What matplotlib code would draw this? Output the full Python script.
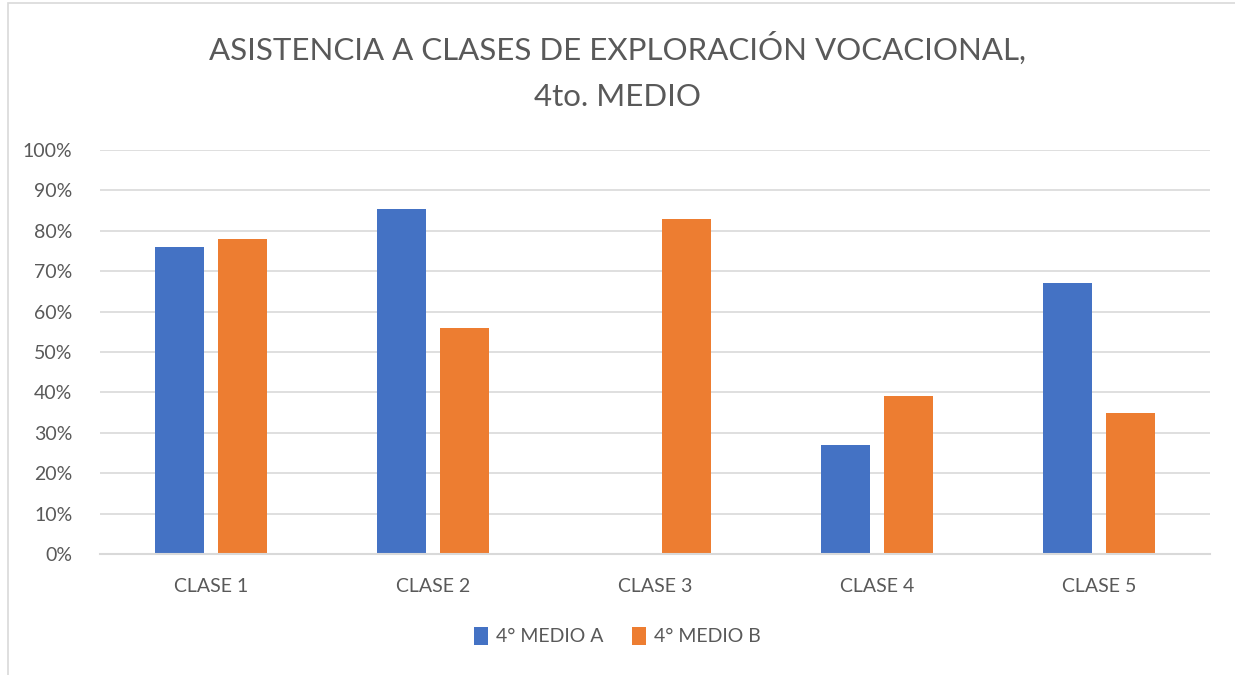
import numpy as np
from matplotlib import pyplot as plt
from matplotlib.patches import Rectangle

plt.rcParams['font.family'] = ['Lato', 'DejaVu Sans']

categories = ['CLASE 1', 'CLASE 2', 'CLASE 3', 'CLASE 4', 'CLASE 5']
medio_a = [76, 85.4, 0, 27, 67]
medio_b = [78, 56, 83, 39, 35]
series_names = ['4° MEDIO A', '4° MEDIO B']
y_ticks = [0, 10, 20, 30, 40, 50, 60, 70, 80, 90, 100]

color_a = '#4472C4'
color_b = '#ED7D31'
text_color = '#595959'

fig = plt.figure(figsize=(12.35, 6.75), dpi=100)
ax = fig.add_axes([100 / 1235, 1 - 554 / 675, 1110 / 1235, 404 / 675])

x = np.arange(len(categories))
width = 0.225
offset = 0.142
ax.bar(x - offset, medio_a, width, color=color_a, label=series_names[0], zorder=3)
ax.bar(x + offset, medio_b, width, color=color_b, label=series_names[1], zorder=3)

ax.set_xlim(-0.5, len(categories) - 0.5)
ax.set_ylim(0, 100)
ax.set_yticks(y_ticks)
ax.set_yticklabels([f'{t}%' for t in y_ticks])
ax.set_xticks(x)
ax.set_xticklabels(categories)
ax.tick_params(axis='both', length=0, labelsize=14, colors=text_color)
ax.tick_params(axis='x', pad=17)
ax.tick_params(axis='y', pad=20)

ax.yaxis.grid(True, color='#D9D9D9', linewidth=1.2, zorder=0)
for side in ['top', 'right', 'left']:
    ax.spines[side].set_visible(False)
ax.spines['bottom'].set_color('#D9D9D9')
ax.spines['bottom'].set_linewidth(1.5)
ax.spines['bottom'].set_zorder(4)

fig.text(0.5, 1 - 48 / 675, 'ASISTENCIA A CLASES DE EXPLORACIÓN VOCACIONAL,',
         ha='center', va='center', fontsize=22.5, color=text_color)
fig.text(0.5, 1 - 97 / 675, '4to. MEDIO',
         ha='center', va='center', fontsize=22.5, color=text_color)

fig.legend(loc='center', bbox_to_anchor=(0.5, 1 - 636 / 675), ncol=2, frameon=False,
           fontsize=14, handlelength=0.7, handleheight=1.1, handletextpad=0.4,
           columnspacing=1.5, labelcolor=text_color)

fig.patches.append(Rectangle((8 / 1235, -0.01), 1.1, 1 - 3 / 675 + 0.01,
                             transform=fig.transFigure, fill=False,
                             edgecolor='#D9D9D9', linewidth=1.2))

fig.savefig('out.png', dpi=100)
